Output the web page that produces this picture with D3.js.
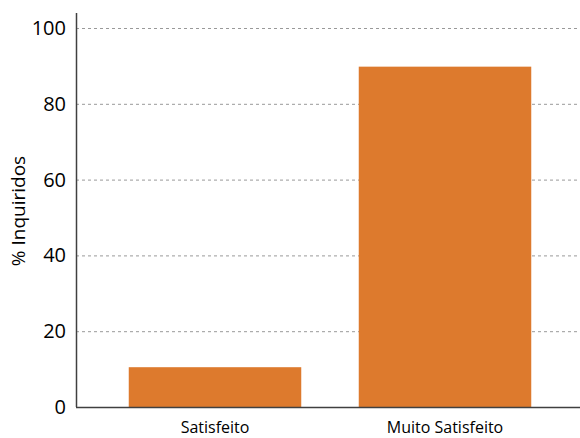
<!DOCTYPE html>
<html>
<head>
<meta charset="utf-8">
<script src="https://cdn.jsdelivr.net/npm/d3@7"></script>
<style>
  body { margin: 0; background: #fff; }
  svg { display: block; font-family: "Open Sans", sans-serif; }
</style>
</head>
<body>
<div id="chart"></div>
<script>
const categories = ['Satisfeito', 'Muito Satisfeito'];
const values = [10.5, 89.8];
const yTicks = [0, 20, 40, 60, 80, 100];

const w = 580, h = 438;
const plotLeft = 76, plotRight = 580, plotTop = 28, plotBottom = 407;

const svg = d3.select('#chart').append('svg').attr('width', w).attr('height', h);

const x = d3.scaleBand().domain(categories).range([100, 560])
  .paddingInner(0.25).paddingOuter(0.125);
const y = d3.scaleLinear().domain([0, 100]).range([plotBottom, plotTop]);

// gridlines
svg.append('g').selectAll('line')
  .data(yTicks.filter(d => d > 0))
  .enter().append('line')
  .attr('x1', plotLeft).attr('x2', plotRight)
  .attr('y1', d => y(d) + 0.5).attr('y2', d => y(d) + 0.5)
  .attr('stroke', '#999').attr('stroke-width', 1)
  .attr('stroke-dasharray', '3,3');

// bars
svg.append('g').selectAll('rect')
  .data(values)
  .enter().append('rect')
  .attr('x', (d, i) => x(categories[i]))
  .attr('width', x.bandwidth())
  .attr('y', d => y(d))
  .attr('height', d => y(0) - y(d))
  .attr('fill', '#dd7a2d');

// y axis
const yAxis = svg.append('g')
  .attr('transform', `translate(${plotLeft},0)`)
  .call(d3.axisLeft(y).tickValues(yTicks).tickSize(0).tickPadding(10));
yAxis.select('.domain').attr('d', `M0.5,13V${plotBottom}`).attr('stroke', '#404040').attr('stroke-width', 1.5);
yAxis.selectAll('text').attr('font-size', 20).attr('fill', '#000').attr('font-family', '"Open Sans", sans-serif');

// x axis
const xAxis = svg.append('g')
  .attr('transform', `translate(0,${plotBottom})`)
  .call(d3.axisBottom(x).tickSize(0).tickPadding(15));
xAxis.select('.domain').attr('d', `M${plotLeft},0.5H${plotRight}`).attr('stroke', '#404040').attr('stroke-width', 1.5);
xAxis.selectAll('text').attr('font-size', 16).attr('fill', '#000').attr('font-family', '"Open Sans", sans-serif');

// y title
svg.append('text')
  .attr('transform', `translate(25,211) rotate(-90)`)
  .attr('text-anchor', 'middle')
  .attr('font-size', 19)
  .attr('fill', '#000')
  .text('% Inquiridos');
</script>
</body>
</html>
